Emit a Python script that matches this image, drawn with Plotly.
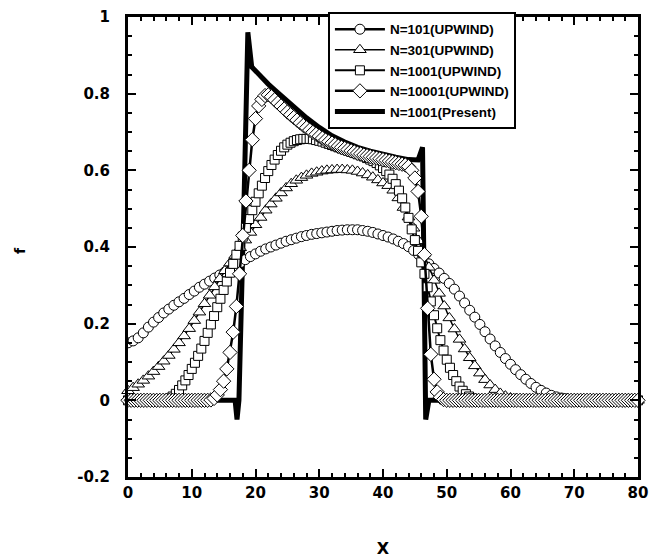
import plotly.graph_objects as go

# ---------------- data ----------------
# N=101 (UPWIND): x step 0.8
x_101 = [round(i * 0.8, 2) for i in range(101)]
f_101 = [0.150, 0.155, 0.163, 0.176, 0.191, 0.204, 0.216, 0.228, 0.238, 0.248,
         0.257, 0.266, 0.276, 0.285, 0.295, 0.303, 0.311, 0.319, 0.327, 0.335,
         0.343, 0.351, 0.359, 0.367, 0.375, 0.382, 0.389, 0.395, 0.400, 0.405,
         0.410, 0.415, 0.419, 0.423, 0.427, 0.430, 0.433, 0.435, 0.437, 0.439,
         0.441, 0.443, 0.444, 0.445, 0.445, 0.445, 0.443, 0.441, 0.438, 0.434,
         0.430, 0.426, 0.421, 0.415, 0.409, 0.401, 0.391, 0.380, 0.368, 0.356,
         0.344, 0.332, 0.318, 0.305, 0.290, 0.272, 0.254, 0.235, 0.217, 0.198,
         0.179, 0.160, 0.142, 0.125, 0.109, 0.094, 0.080, 0.067, 0.055, 0.044,
         0.034, 0.026, 0.019, 0.013, 0.009, 0.006, 0.004, 0.002, 0.001, 0.000,
         0.000, 0.000, 0.000, 0.000, 0.000, 0.000, 0.000, 0.000, 0.000, 0.000,
         0.000]

# N=301 (UPWIND): x step 0.8 (every 3rd point shown)
x_301 = [round(i * 0.8, 2) for i in range(101)]
f_301 = [0.025, 0.033, 0.042, 0.052, 0.063, 0.075, 0.088, 0.102, 0.117, 0.133,
         0.150, 0.168, 0.187, 0.208, 0.230, 0.252, 0.274, 0.296, 0.317, 0.338,
         0.358, 0.378, 0.398, 0.418, 0.438, 0.458, 0.477, 0.496, 0.512, 0.527,
         0.541, 0.554, 0.565, 0.574, 0.581, 0.587, 0.592, 0.595, 0.598, 0.600,
         0.601, 0.602, 0.602, 0.601, 0.600, 0.597, 0.593, 0.588, 0.582, 0.575,
         0.567, 0.560, 0.548, 0.528, 0.503, 0.478, 0.449, 0.416, 0.382, 0.347,
         0.313, 0.279, 0.246, 0.215, 0.186, 0.159, 0.134, 0.111, 0.090, 0.071,
         0.054, 0.040, 0.028, 0.018, 0.011, 0.006, 0.003, 0.001, 0.000, 0.000,
         0.000, 0.000, 0.000, 0.000, 0.000, 0.000, 0.000, 0.000, 0.000, 0.000,
         0.000, 0.000, 0.000, 0.000, 0.000, 0.000, 0.000, 0.000, 0.000, 0.000,
         0.000]

# N=1001 (UPWIND): x step 0.5
x_1001 = [i * 0.5 for i in range(161)]
f_1001 = [0.000, 0.000, 0.000, 0.000, 0.000, 0.000, 0.000, 0.000, 0.000, 0.000,
          0.000, 0.000, 0.002, 0.005, 0.010, 0.017, 0.027, 0.039, 0.052, 0.066,
          0.082, 0.098, 0.116, 0.135, 0.155, 0.176, 0.198, 0.220, 0.243, 0.265,
          0.288, 0.310, 0.333, 0.356, 0.380, 0.403, 0.427, 0.450, 0.473, 0.496,
          0.518, 0.540, 0.560, 0.580, 0.598, 0.614, 0.628, 0.640, 0.651, 0.660,
          0.667, 0.672, 0.676, 0.679, 0.681, 0.682, 0.682, 0.682, 0.681, 0.679,
          0.677, 0.675, 0.672, 0.669, 0.666, 0.663, 0.660, 0.657, 0.654, 0.651,
          0.648, 0.645, 0.642, 0.639, 0.636, 0.632, 0.628, 0.624, 0.619, 0.613,
          0.606, 0.598, 0.589, 0.578, 0.564, 0.547, 0.527, 0.503, 0.476, 0.446,
          0.418, 0.390, 0.360, 0.330, 0.295, 0.258, 0.222, 0.188, 0.157, 0.130,
          0.106, 0.085, 0.066, 0.050, 0.036, 0.025, 0.016, 0.010, 0.005, 0.002,
          0.000, 0.000, 0.000, 0.000, 0.000, 0.000, 0.000, 0.000, 0.000, 0.000,
          0.000, 0.000, 0.000, 0.000, 0.000, 0.000, 0.000, 0.000, 0.000, 0.000,
          0.000, 0.000, 0.000, 0.000, 0.000, 0.000, 0.000, 0.000, 0.000, 0.000,
          0.000, 0.000, 0.000, 0.000, 0.000, 0.000, 0.000, 0.000, 0.000, 0.000,
          0.000, 0.000, 0.000, 0.000, 0.000, 0.000, 0.000, 0.000, 0.000, 0.000,
          0.000]

# N=10001 (UPWIND): x step 0.5
x_10001 = [i * 0.5 for i in range(161)]
f_10001 = [0.000, 0.000, 0.000, 0.000, 0.000, 0.000, 0.000, 0.000, 0.000, 0.000,
           0.000, 0.000, 0.000, 0.000, 0.000, 0.000, 0.000, 0.000, 0.000, 0.000,
           0.000, 0.000, 0.000, 0.000, 0.000, 0.000, 0.001, 0.005, 0.014, 0.028,
           0.050, 0.082, 0.125, 0.178, 0.245, 0.330, 0.430, 0.520, 0.600, 0.680,
           0.735, 0.768, 0.785, 0.795, 0.797, 0.792, 0.784, 0.776, 0.768, 0.760,
           0.752, 0.745, 0.738, 0.731, 0.724, 0.717, 0.711, 0.705, 0.699, 0.694,
           0.689, 0.684, 0.679, 0.675, 0.671, 0.667, 0.663, 0.660, 0.657, 0.654,
           0.651, 0.648, 0.645, 0.643, 0.640, 0.638, 0.636, 0.634, 0.632, 0.630,
           0.628, 0.626, 0.624, 0.622, 0.620, 0.618, 0.616, 0.614, 0.610, 0.600,
           0.580, 0.545, 0.480, 0.380, 0.240, 0.120, 0.055, 0.022, 0.008, 0.002,
           0.000, 0.000, 0.000, 0.000, 0.000, 0.000, 0.000, 0.000, 0.000, 0.000,
           0.000, 0.000, 0.000, 0.000, 0.000, 0.000, 0.000, 0.000, 0.000, 0.000,
           0.000, 0.000, 0.000, 0.000, 0.000, 0.000, 0.000, 0.000, 0.000, 0.000,
           0.000, 0.000, 0.000, 0.000, 0.000, 0.000, 0.000, 0.000, 0.000, 0.000,
           0.000, 0.000, 0.000, 0.000, 0.000, 0.000, 0.000, 0.000, 0.000, 0.000,
           0.000, 0.000, 0.000, 0.000, 0.000, 0.000, 0.000, 0.000, 0.000, 0.000,
           0.000]

# N=1001 (Present)
x_present = [0, 16.8, 17.1, 17.4, 18.2, 18.8, 19.4, 20.2, 21.0, 22.0, 23.0, 24.0,
             26.0, 28.0, 30.0, 32.0, 34.0, 36.0, 38.0, 40.0, 42.0, 44.0, 45.5,
             46.2, 46.5, 46.7, 47.2, 80]
f_present = [0.0, 0.0, -0.05, 0.0, 0.52, 0.96, 0.87, 0.855, 0.84, 0.825, 0.81, 0.795,
             0.765, 0.737, 0.712, 0.69, 0.674, 0.66, 0.65, 0.641, 0.634, 0.628, 0.627,
             0.66, 0.30, -0.05, 0.0, 0.0]

names = ["N=101(UPWIND)", "N=301(UPWIND)", "N=1001(UPWIND)", "N=10001(UPWIND)", "N=1001(Present)"]

x_tickvals = [0, 10, 20, 30, 40, 50, 60, 70, 80]
x_ticktext = ["0", "10", "20", "30", "40", "50", "60", "70", "80"]
y_tickvals = [-0.2, 0, 0.2, 0.4, 0.6, 0.8, 1]
y_ticktext = ["-0.2", "0", "0.2", "0.4", "0.6", "0.8", "1"]

# ---------------- figure ----------------
TICKFONT = dict(family="DejaVu Sans, Arial, sans-serif", size=15, color="black", weight="bold")
LEGFONT = dict(family="Liberation Sans, Arial, sans-serif", size=13.5, color="black", weight="bold")

fig = go.Figure()

fig.add_trace(go.Scatter(
    x=x_present, y=f_present, name=names[4], mode="lines",
    line=dict(color="black", width=5), legendrank=5))

fig.add_trace(go.Scatter(
    x=x_101, y=f_101, name=names[0], mode="lines+markers",
    line=dict(color="black", width=2.5),
    marker=dict(symbol="circle", size=10, color="white", line=dict(color="black", width=1)),
    legendrank=1))

fig.add_trace(go.Scatter(
    x=x_301, y=f_301, name=names[1], mode="lines+markers",
    line=dict(color="black", width=1.5),
    marker=dict(symbol="triangle-up", size=11, color="white", line=dict(color="black", width=1)),
    legendrank=2, cliponaxis=False))

fig.add_trace(go.Scatter(
    x=x_1001, y=f_1001, name=names[2], mode="lines+markers",
    line=dict(color="black", width=2),
    marker=dict(symbol="square", size=9, color="white", line=dict(color="black", width=1)),
    legendrank=3, cliponaxis=False))

fig.add_trace(go.Scatter(
    x=x_10001, y=f_10001, name=names[3], mode="lines+markers",
    line=dict(color="black", width=2.5),
    marker=dict(symbol="diamond", size=11, color="white", line=dict(color="black", width=1)),
    legendrank=4, cliponaxis=False))

axis_common = dict(
    showgrid=False, zeroline=False, showline=True, linecolor="black", linewidth=3,
    mirror="allticks", ticks="inside", ticklen=8, tickwidth=2, tickcolor="black",
    tickfont=TICKFONT,
)

fig.update_xaxes(
    range=[0, 80], tickmode="array", tickvals=x_tickvals, ticktext=x_ticktext,
    minor=dict(dtick=2, tick0=0, ticks="inside", ticklen=4, tickwidth=2, tickcolor="black"),
    title=dict(text="X", font=dict(family="DejaVu Sans, Arial", size=16, color="black", weight="bold"),
               standoff=42),
    **axis_common)

fig.update_yaxes(
    range=[-0.2, 1], tickmode="array", tickvals=y_tickvals, ticktext=y_ticktext,
    minor=dict(dtick=0.05, tick0=0, ticks="inside", ticklen=4, tickwidth=2, tickcolor="black"),
    ticklabelstandoff=12,
    **axis_common)

# y-axis title "f" placed as a rotated label left of the tick labels
fig.add_annotation(
    text="f", xref="paper", yref="paper", x=-0.212, y=0.493,
    xanchor="center", yanchor="middle", textangle=-90, showarrow=False,
    font=dict(family="DejaVu Sans, Arial", size=14, color="black", weight="bold"))

fig.update_layout(
    width=671, height=559,
    margin=dict(l=128, r=33, t=17, b=82, autoexpand=False),
    paper_bgcolor="white", plot_bgcolor="white",
    showlegend=True,
    legend=dict(
        x=0.392, y=1.011, xanchor="left", yanchor="top",
        bgcolor="white", bordercolor="black", borderwidth=2,
        font=LEGFONT, itemwidth=50, tracegroupgap=0,
    ),
)

fig.write_html("out.html")
